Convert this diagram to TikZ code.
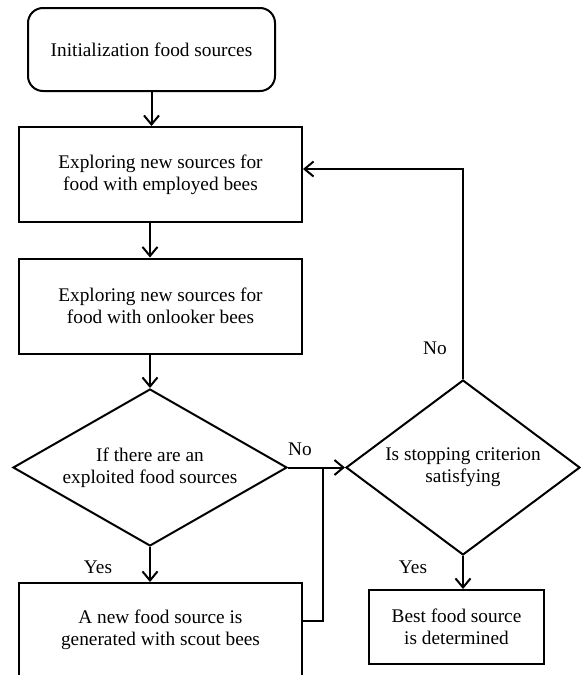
\documentclass[tikz,border=0pt]{standalone}
\usepackage{fontspec}
\setmainfont{Liberation Serif}
\usetikzlibrary{shapes.geometric,arrows.meta}

\begin{document}
\begin{tikzpicture}[
	x=1pt, y=-1pt,
	line width=2pt,
	>={Straight Barb[length=9pt,width=15pt]},
	font=\fontsize{19.3}{22}\selectfont,
	startbox/.style={
		rectangle,
		draw=black,
		align=center,
		rounded corners=15pt,
		minimum height=83pt,
		minimum width=247pt
	},
	process/.style={
		rectangle,
		draw=black,
		align=center,
		minimum height=95pt,
		minimum width=283pt
	},
	decision/.style={
		diamond,
		draw=black,
		align=center,
		inner sep=0pt
	},
	result/.style={
		rectangle,
		draw=black,
		align=center,
		minimum height=74pt,
		minimum width=175pt
	},
]

\useasboundingbox (0,0) rectangle (581,675);
\clip (0,0) rectangle (581,675);

\node[startbox] (init) at (151.5,49.5) {Initialization food sources};

\node[process] (emp) at (160.5,174.5) {Exploring new sources for\\food with employed bees};
\node[process] (onl) at (160.5,306) {Exploring new sources for\\food with onlooker bees};

\node[decision, aspect=1.745, minimum width=274pt, minimum height=157pt] (cond1) at (150,467.5)
{If there are an\\exploited food sources};
\node[process, minimum height=94pt] (scout) at (160.5,630) {A new food source is\\generated with scout bees};

\node[decision, aspect=1.337, minimum width=234pt, minimum height=175pt] (cond2) at (463,467.5)
{Is stopping criterion\\satisfying};
\node[result] (best) at (456.5,627) {Best food source\\is determined};

\node (no1) at (300,449) {No};
\node (yes1) at (98,567) {Yes};
\node (no2) at (435,348) {No};
\node (yes2) at (413,567) {Yes};

\coordinate (join) at (323,467.5);

\draw[->] (init.south) -- (init.south |- emp.north);
\draw[->] (cond1.north |- emp.south) -- (cond1.north |- onl.north);
\draw[->] (cond1.north |- onl.south) -- (cond1.north);
\draw[->] (cond1.south) -- (cond1.south |- scout.north);

\draw[->] (cond1.east) -- (cond2.west);
\draw ([yshift=9pt]scout.east) -| (join);

\draw[->] (cond2.north) |- ([yshift=5.5pt]emp.east);
\draw[->] (cond2.south) -- (cond2.south |- best.north);

\end{tikzpicture}
\end{document}
